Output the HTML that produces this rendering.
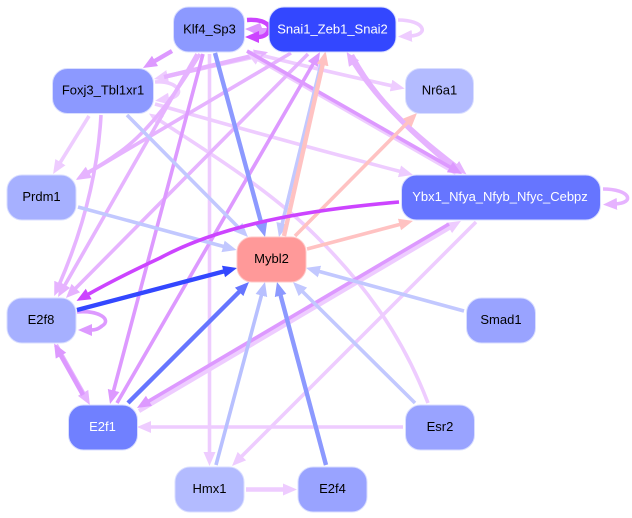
<!DOCTYPE html>
<html><head><meta charset="utf-8"><style>
html,body{margin:0;padding:0;background:#fff;width:632px;height:518px;overflow:hidden}
svg{display:block}
text{font-family:"Liberation Sans",sans-serif;font-size:13px;text-anchor:middle}
.e{fill:none;stroke-width:3.6}
.h{stroke-width:4.4}
.n{stroke:#d9deff;stroke-width:1}
</style></head><body>
<svg width="632" height="518" viewBox="0 0 632 518" xmlns="http://www.w3.org/2000/svg">
<defs>
<marker id="L" markerUnits="userSpaceOnUse" markerWidth="15" markerHeight="13" refX="2" refY="6" orient="auto"><path d="M0 0L14 6L0 12z" fill="#eeccff"/></marker>
<marker id="M" markerUnits="userSpaceOnUse" markerWidth="15" markerHeight="13" refX="2" refY="6" orient="auto"><path d="M0 0L14 6L0 12z" fill="#e6b3ff"/></marker>
<marker id="D" markerUnits="userSpaceOnUse" markerWidth="15" markerHeight="13" refX="2" refY="6" orient="auto"><path d="M0 0L14 6L0 12z" fill="#dd99ff"/></marker>
<marker id="S" markerUnits="userSpaceOnUse" markerWidth="15" markerHeight="13" refX="2" refY="6" orient="auto"><path d="M0 0L14 6L0 12z" fill="#cc44ff"/></marker>
<marker id="B1" markerUnits="userSpaceOnUse" markerWidth="15" markerHeight="13" refX="2" refY="6" orient="auto"><path d="M0 0L14 6L0 12z" fill="#c2c8ff"/></marker>
<marker id="B2" markerUnits="userSpaceOnUse" markerWidth="15" markerHeight="13" refX="2" refY="6" orient="auto"><path d="M0 0L14 6L0 12z" fill="#b8c0ff"/></marker>
<marker id="B3" markerUnits="userSpaceOnUse" markerWidth="15" markerHeight="13" refX="2" refY="6" orient="auto"><path d="M0 0L14 6L0 12z" fill="#8c99ff"/></marker>
<marker id="B4" markerUnits="userSpaceOnUse" markerWidth="15" markerHeight="13" refX="2" refY="6" orient="auto"><path d="M0 0L14 6L0 12z" fill="#3347ff"/></marker>
<marker id="B5" markerUnits="userSpaceOnUse" markerWidth="15" markerHeight="13" refX="2" refY="6" orient="auto"><path d="M0 0L14 6L0 12z" fill="#6675ff"/></marker>
<marker id="P" markerUnits="userSpaceOnUse" markerWidth="15" markerHeight="13" refX="2" refY="6" orient="auto"><path d="M0 0L14 6L0 12z" fill="#ffc2c2"/></marker>
</defs>

<!-- pale edges -->
<path class="e" stroke="#eeccff" marker-end="url(#L)" d="M209.5 54L209.5 454"/>
<path class="e" stroke="#eeccff" marker-end="url(#L)" d="M248 52Q320 70 393 86"/>
<path class="e" stroke="#eeccff" marker-end="url(#L)" d="M155 104Q280 140 401.4 171.8"/>
<path class="e" stroke="#eeccff" marker-end="url(#L)" d="M89 116L59.4 163.8"/>
<path class="e" stroke="#eeccff" marker-end="url(#L)" d="M476 222L240.5 457.5"/>
<path class="e" stroke="#eeccff" marker-end="url(#L)" d="M428 403C400 330 360 280 316 236C270 190 205 150 159 120"/>
<path class="e" stroke="#eeccff" marker-end="url(#L)" d="M403 427L149 427"/>
<path class="e h" stroke="#eeccff" marker-end="url(#L)" d="M246 489.5L285 489.5"/>
<path class="e" stroke="#eeccff" marker-end="url(#L)" d="M398 20C425 20 430 35 410 36"/>
<path class="e" stroke="#e6b3ff" marker-end="url(#M)" d="M603 189C630 189 636 203 615 204"/>
<path class="e" stroke="#eeccff" marker-end="url(#L)" d="M155 82C178 80 188 96 167 99"/>
<path class="e h" stroke="#eeccff" marker-end="url(#L)" d="M139 411L450.7 227"/>
<path class="e h" stroke="#eeccff" marker-end="url(#L)" d="M266 54L165.7 76.4"/>
<path class="e h" stroke="#e6b3ff" marker-end="url(#M)" d="M164 77L256.4 54.9"/>
<path class="e h" stroke="#eeccff" marker-end="url(#L)" d="M456 173L257 58.5"/>

<!-- medium purple -->
<path class="e" stroke="#e6b3ff" marker-end="url(#M)" d="M101 115C98 170 85 225 59 285"/>
<path class="e" stroke="#e6b3ff" marker-end="url(#M)" d="M197 54L64 286.6"/>
<path class="e" stroke="#e6b3ff" marker-end="url(#M)" d="M308 54L74.4 289.5"/>
<path class="e" stroke="#e6b3ff" marker-end="url(#M)" d="M291 53L86.3 173.9"/>
<path class="e" stroke="#e6b3ff" marker-end="url(#M)" d="M200 54C175 95 150 130 120 152Q105 163 87 173"/>
<path class="e h" stroke="#e6b3ff" marker-end="url(#M)" d="M458 172C420 140 380 105 353 62"/>
<path class="e h" stroke="#e6b3ff" marker-end="url(#M)" d="M352 55C378 105 420 138 457 167"/>
<path class="e h" stroke="#e6b3ff" marker-end="url(#M)" d="M56 345L84 394.6"/>
<path class="e" stroke="#dd99ff" marker-end="url(#D)" d="M203 54L113.1 392.4"/>
<path class="e" stroke="#dd99ff" marker-end="url(#D)" d="M117 403L314 62.4"/>
<path class="e h" stroke="#dd99ff" marker-end="url(#D)" d="M172 51L153.3 61.9"/>
<path class="e" stroke="#dd99ff" marker-end="url(#D)" d="M247 51L451.6 168"/>
<path class="e" stroke="#dd99ff" marker-end="url(#D)" d="M449 224L147.3 401.9"/>
<path class="e h" stroke="#dd99ff" marker-end="url(#D)" d="M83 395L60 354"/>
<path class="e" stroke="#dd99ff" marker-end="url(#D)" d="M77 312C100 310 112 320 102 326C98 329 96 330 90 330"/>

<!-- klf4 / snai pair -->
<path d="M245 29L260 23L262 28L268 28L268 36L260 36z" fill="#dd99ff"/>
<path class="e h" stroke="#cc44ff" d="M247 20C262 19 270 24 269 29C268 34 264 37 258 37"/>
<path d="M245 37L259 31L259 43z" fill="#cc44ff"/>

<!-- blue edges -->
<path class="e" stroke="#c2c8ff" marker-end="url(#B1)" d="M127 115L239.5 228.5"/>
<path class="e" stroke="#c2c8ff" marker-end="url(#B1)" d="M78 207L225 246.9"/>
<path class="e" stroke="#c2c8ff" marker-end="url(#B1)" d="M322 60L281.8 225.3"/>
<path class="e" stroke="#c2c8ff" marker-end="url(#B1)" d="M415 403L301.5 290.5"/>
<path class="e" stroke="#c2c8ff" marker-end="url(#B1)" d="M464 311L317.6 271"/>
<path class="e" stroke="#b8c0ff" marker-end="url(#B2)" d="M216 465L261.9 293.6"/>
<path class="e h" stroke="#8c99ff" marker-end="url(#B3)" d="M215 53L261.9 225.4"/>
<path class="e h" stroke="#8c99ff" marker-end="url(#B3)" d="M326 465L280.1 293.6"/>
<path class="e h" stroke="#6675ff" marker-end="url(#B5)" d="M128 403L240.5 290.5"/>
<path class="e h" stroke="#3347ff" marker-end="url(#B4)" d="M77 310L225.4 271"/>

<!-- pink edges -->
<path class="e h" stroke="#ffc2c2" marker-end="url(#P)" d="M284 236L323 63"/>
<path class="e" stroke="#ffc2c2" marker-end="url(#P)" d="M295 236L408.6 121.5"/>
<path class="e" stroke="#ffc2c2" marker-end="url(#P)" d="M307 249L401.4 224"/>

<!-- strong purple -->
<path class="e" stroke="#cc44ff" marker-end="url(#S)" d="M399 202C330 208 230 220 160 258C130 272 110 282 87 295"/>

<!-- nodes -->
<rect class="n" x="173.5" y="7" width="71" height="45" rx="15" fill="#8c99ff"/>
<rect class="n" x="269" y="7" width="127" height="45" rx="15" fill="#3347ff"/>
<rect class="n" x="52.5" y="68.5" width="101" height="45" rx="15" fill="#8c99ff"/>
<rect class="n" x="405.5" y="68.5" width="68" height="45" rx="15" fill="#b3bbff"/>
<rect class="n" x="7" y="175" width="69" height="45" rx="15" fill="#a6b0ff"/>
<rect class="n" x="401.5" y="175" width="199" height="45" rx="15" fill="#6675ff"/>
<rect class="n" x="237" y="237" width="69" height="45" rx="15" fill="#ff9999" style="stroke:#ffc8c8"/>
<rect class="n" x="7" y="298" width="69" height="45" rx="15" fill="#a6b0ff"/>
<rect class="n" x="466.5" y="298" width="69" height="45" rx="15" fill="#99a3ff"/>
<rect class="n" x="68.5" y="405" width="69" height="45" rx="15" fill="#7080ff"/>
<rect class="n" x="405.5" y="405" width="69" height="45" rx="15" fill="#99a3ff"/>
<rect class="n" x="175" y="467" width="69" height="45" rx="15" fill="#b3bbff"/>
<rect class="n" x="298" y="467" width="69" height="45" rx="15" fill="#99a3ff"/>

<text x="209.5" y="33.5">Klf4_Sp3</text>
<text x="332.5" y="33.5" fill="#fff">Snai1_Zeb1_Snai2</text>
<text x="103" y="94.5">Foxj3_Tbl1xr1</text>
<text x="439.5" y="94.5">Nr6a1</text>
<text x="41.5" y="201">Prdm1</text>
<text x="500" y="201" fill="#fff">Ybx1_Nfya_Nfyb_Nfyc_Cebpz</text>
<text x="271.5" y="263">Mybl2</text>
<text x="41" y="324">E2f8</text>
<text x="501" y="324">Smad1</text>
<text x="102.5" y="431" fill="#fff">E2f1</text>
<text x="440" y="431">Esr2</text>
<text x="209.5" y="493">Hmx1</text>
<text x="332.5" y="493">E2f4</text>
</svg>
</body></html>
